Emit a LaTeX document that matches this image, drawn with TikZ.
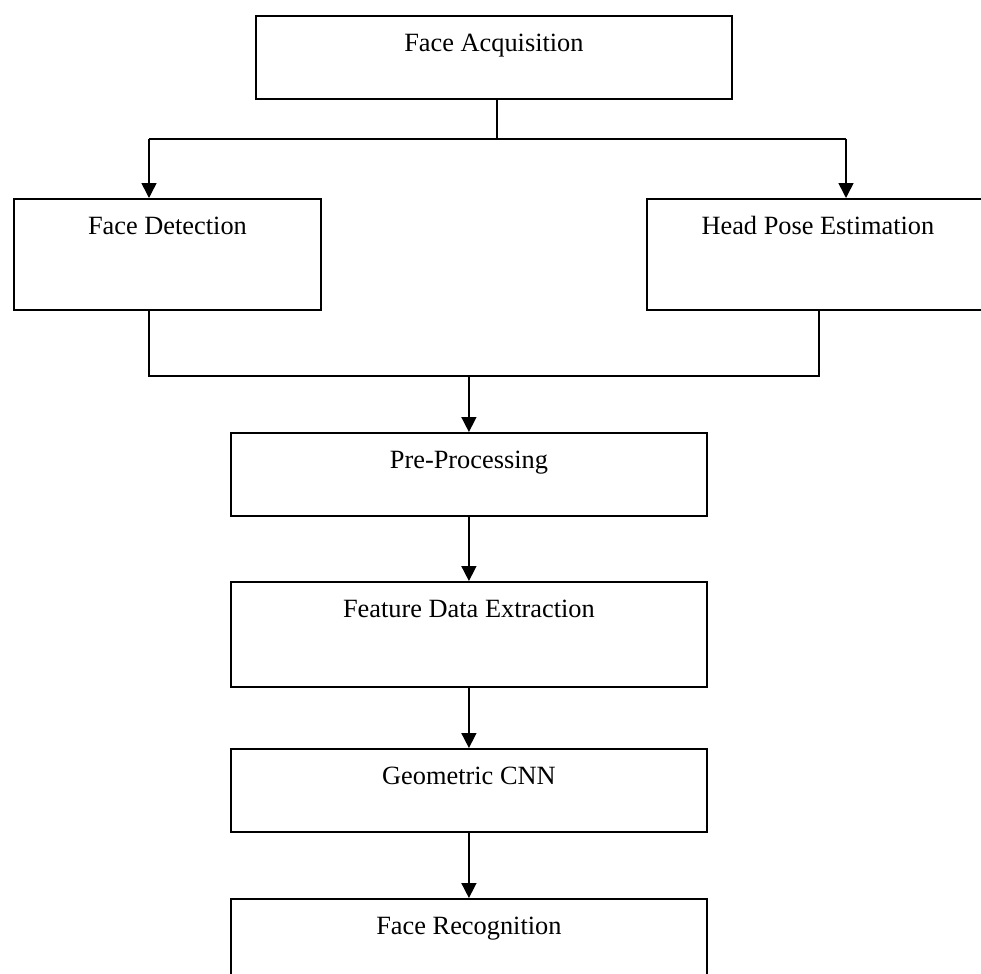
\documentclass[tikz,border=0pt]{standalone}
\usepackage{fontspec}
\setmainfont{Liberation Serif}
\usetikzlibrary{arrows.meta}

\begin{document}
\begin{tikzpicture}[x=0.02cm,y=-0.02cm,line width=0.9pt,
  box/.style={draw,line width=1.1pt,rectangle,anchor=north west,inner sep=0pt,
    text height=0.72cm,font=\fontsize{15}{18}\selectfont},
  arr/.style={-{Triangle[width=0.3cm,length=0.3cm]}},
  ]
  \clip (0,0) rectangle (981,974);
  % boxes, placed by their top left corner
  \node[box,minimum width=9.52cm,text depth=0.94cm] (acq) at (255,15) {Face Acquisition};
  \node[box,minimum width=6.14cm,text depth=1.50cm] (det) at (13,198) {Face Detection};
  \node[box,minimum width=6.84cm,text depth=1.50cm] (head) at (646,198) {Head Pose Estimation};
  \node[box,minimum width=9.52cm,text depth=0.94cm] (pre) at (230,432) {Pre-Processing};
  \node[box,minimum width=9.52cm,text depth=1.38cm] (feat) at (230,581) {Feature Data Extraction};
  \node[box,minimum width=9.52cm,text depth=0.94cm] (geo) at (230,748) {Geometric CNN};
  \node[box,minimum width=9.52cm,text depth=1.48cm] (rec) at (230,898) {Face Recognition};

  % split after acquisition
  \coordinate (fork) at (497,139);
  \coordinate (dl) at (149,139);
  \coordinate (hl) at (846,139);
  \draw (acq.south -| fork) -- (fork);
  \draw (dl) -- (hl);
  \draw[arr] (dl) -- (dl |- det.north);
  \draw[arr] (hl) -- (hl |- head.north);

  % merge into pre-processing
  \coordinate (dj) at (149,376);
  \coordinate (hj) at (819,376);
  \draw (dj |- det.south) -- (dj) -- (hj) -- (hj |- head.south);
  \draw[arr] (pre.north |- dj) -- (pre.north);

  \draw[arr] (pre.south) -- (feat.north);
  \draw[arr] (feat.south) -- (geo.north);
  \draw[arr] (geo.south) -- (rec.north);
\end{tikzpicture}
\end{document}
